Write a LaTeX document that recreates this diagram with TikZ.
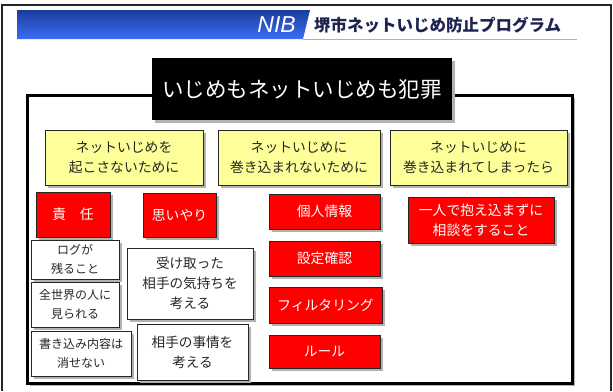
\documentclass[tikz,border=0pt]{standalone}
\usepackage{fontspec}
\setmainfont{Noto Sans CJK JP}
\newfontfamily\latinsans{Liberation Sans}
\usetikzlibrary{shadows}
\definecolor{bannertop}{HTML}{1A3C9C}
\definecolor{bannerbot}{HTML}{3C6EF5}
\definecolor{bannerline}{HTML}{9DB0E6}
\definecolor{titlenavy}{HTML}{1E2450}
\definecolor{yellowfill}{HTML}{FFFF99}
\definecolor{redfill}{HTML}{FF0000}
\begin{document}
\begin{tikzpicture}[x=1pt,y=-1pt,
  shadowed/.style={drop shadow={shadow xshift=2.5pt, shadow yshift=-2.5pt, fill=black!30, opacity=1}},
  box/.style={rectangle, draw=black!85, line width=0.9pt, inner sep=0pt, align=center, shadowed},
  ybox/.style={box, fill=yellowfill, text=black!85, font=\fontsize{13.8}{20}\selectfont},
  rbox/.style={box, fill=redfill, text=white, font=\fontsize{13.8}{20}\selectfont},
  wbox/.style={box, fill=white, text=black!85, font=\fontsize{12}{18.3}\selectfont},
  wboxl/.style={box, fill=white, text=black!85, font=\fontsize{13.6}{20}\selectfont},
  framebox/.style={rectangle, draw=black, fill=white, line width=3pt, inner sep=0pt, shadowed},
  titlebox/.style={rectangle, fill=black, text=white, inner sep=0pt, font=\fontsize{21.5}{24}\selectfont, shadowed},
]
\useasboundingbox (0,0) rectangle (613,391);
\fill[white] (0,0) rectangle (613,391);
% outer border
\draw[line width=2pt, black!85] (1.5,391) -- (1.5,5) -- (610.5,5) -- (610.5,391);
% banner
\shade[top color=bannertop, bottom color=bannerbot] (17,10) -- (310,10) -- (303,39) -- (17,39) -- cycle;
\draw[bannerline, line width=1.5pt] (303,39.5) -- (577,39.5);
\node[anchor=east, inner sep=0pt, text=white, font=\latinsans\itshape\fontsize{23}{25}\selectfont] (nib) at (296,25) {NIB};
\node[anchor=west, inner sep=0pt, text=titlenavy, font=\bfseries\fontsize{16.5}{18}\selectfont] (bt) at (314,25) {堺市ネットいじめ防止プログラム};
% frame
\node[framebox, minimum width=545pt, minimum height=288pt] (frame) at (299.5,239) {};
% title
\node[titlebox, minimum width=300pt, minimum height=62pt] (title) at (302,89) {いじめもネットいじめも犯罪};
% yellow headers
\node[ybox, minimum width=158pt, minimum height=55pt] (y1) at (124,157.5) {ネットいじめを\\起こさないために};
\node[ybox, minimum width=162pt, minimum height=55pt] (y2) at (299,157.5) {ネットいじめに\\巻き込まれないために};
\node[ybox, minimum width=177pt, minimum height=55pt] (y3) at (478.5,157.5) {ネットいじめに\\巻き込まれてしまったら};
% red boxes
\node[rbox, minimum width=74pt, minimum height=45pt] (r1) at (73,214.5) {責　任};
\node[rbox, minimum width=73pt, minimum height=44pt] (r2) at (179.5,215) {思いやり};
\node[rbox, minimum width=111pt, minimum height=35pt] (r3) at (324.5,211.5) {個人情報};
\node[rbox, minimum width=111pt, minimum height=35pt] (r4) at (324.5,258.5) {設定確認};
\node[rbox, minimum width=113pt, minimum height=36pt] (r5) at (325.5,305) {フィルタリング};
\node[rbox, minimum width=111pt, minimum height=33pt] (r6) at (324.5,351.5) {ルール};
\node[rbox, minimum width=146pt, minimum height=46pt] (r7) at (481,220) {一人で抱え込まずに\\相談をすること};
% white boxes
\node[wbox, minimum width=88pt, minimum height=39pt] (w1) at (75,259.5) {ログが\\残ること};
\node[wbox, minimum width=88pt, minimum height=45pt] (w2) at (75,304.5) {全世界の人に\\見られる};
\node[wbox, minimum width=100pt, minimum height=45pt] (w3) at (81,353.5) {書き込み内容は\\消せない};
\node[wboxl, minimum width=126pt, minimum height=71pt] (w4) at (190,283.5) {受け取った\\相手の気持ちを\\考える};
\node[wboxl, minimum width=111pt, minimum height=56pt] (w5) at (192.5,352) {相手の事情を\\考える};
\end{tikzpicture}
\end{document}
